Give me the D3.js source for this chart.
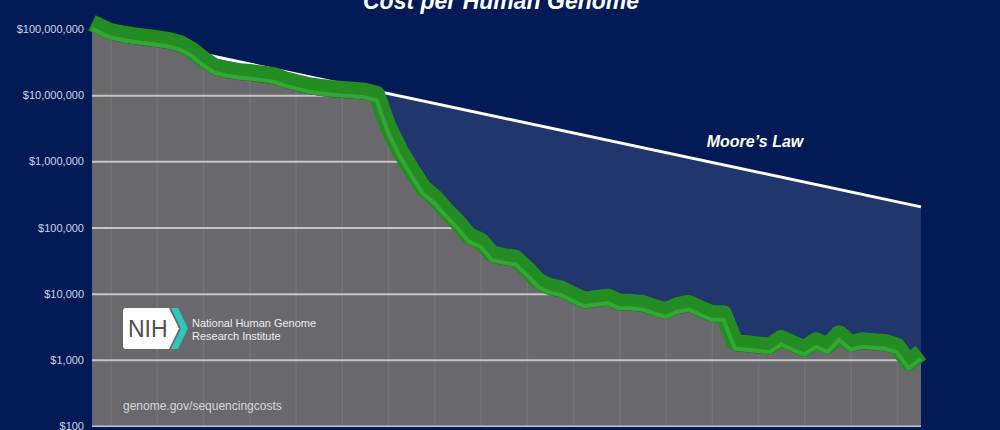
<!DOCTYPE html>
<html><head><meta charset="utf-8">
<script src="https://cdn.jsdelivr.net/npm/d3@7"></script>
<style>html,body{margin:0;padding:0;background:#021b57;}svg{display:block;}</style>
</head><body><svg id="c" width="1000" height="430"></svg>
<script>
// ---- data ----
const years = [2001.6, 2002.0, 2002.25, 2002.5, 2002.75, 2003.0, 2003.25, 2003.5, 2003.75,
  2004.0, 2004.25, 2004.5, 2004.75, 2005.0, 2005.25, 2005.5, 2005.75, 2006.0, 2006.25,
  2006.5, 2006.75, 2007.0, 2007.25, 2007.5, 2007.75, 2008.0, 2008.25, 2008.5, 2008.75,
  2009.0, 2009.25, 2009.5, 2009.75, 2010.0, 2010.25, 2010.5, 2010.75, 2011.0, 2011.25,
  2011.5, 2011.75, 2012.0, 2012.25, 2012.5, 2012.75, 2013.0, 2013.25, 2013.5, 2013.75,
  2014.0, 2014.25, 2014.5, 2014.75, 2015.0, 2015.25, 2015.5, 2015.75, 2016.0, 2016.25,
  2016.5, 2016.75, 2017.0, 2017.25, 2017.5, 2017.75, 2018.0, 2018.25, 2018.5, 2018.75,
  2019.0, 2019.25, 2019.52];
const costs = [92e6, 68e6, 63e6, 59e6, 56e6, 53e6, 50e6, 45e6, 36e6,
  26e6, 20e6, 18.2e6, 17e6, 16.4e6, 15.6e6, 14.8e6, 12.9e6, 11.6e6, 10.5e6,
  9.8e6, 9.4e6, 9.1e6, 8.8e6, 8.5e6, 7.7e6, 2.5e6, 1.1e6, 565e3, 300e3,
  214e3, 136e3, 90e3, 56e3, 46.5e3, 29.5e3, 27e3, 25.6e3, 17.6e3, 11.5e3,
  9.5e3, 8.7e3, 7.1e3, 5.9e3, 6.3e3, 6.6e3, 5.5e3, 5.5e3, 5.3e3, 4.6e3,
  4.1e3, 4.9e3, 5.3e3, 4.4e3, 3.7e3, 3.7e3, 1350, 1300, 1250, 1200,
  1570, 1300, 1100, 1450, 1200, 1850, 1300, 1450, 1400, 1350,
  1200, 680, 960];
const mooreYears = [2001.6, 2019.52];
const mooreCosts = [95e6, 2.05e5];
const yTicks = [100, 1e3, 1e4, 1e5, 1e6, 1e7, 1e8];
const gridYears = [2002, 2003, 2004, 2005, 2006, 2007, 2008, 2009, 2010, 2011, 2012,
  2013, 2014, 2015, 2016, 2017, 2018, 2019];
const titleText = "Cost per Human Genome";
const mooreLabel = "Moore\u2019s Law";
const orgLines = ["National Human Genome", "Research Institute"];
const sourceText = "genome.gov/sequencingcosts";

// ---- layout ----
const L = 92, R = 921, T = 29, B = 426;
const svg = d3.select("#c");
const x = d3.scaleLinear().domain([2001.6, 2019.52]).range([L, R]);
const y = d3.scaleLog().domain([100, 1e8]).range([B, T]);
const data = years.map((t, i) => ({t, v: costs[i]}));
const moore = mooreYears.map((t, i) => ({t, v: mooreCosts[i]}));
const font = "'Liberation Sans', Arial, sans-serif";

svg.append("rect").attr("width", 1000).attr("height", 430).attr("fill", "#021b57");

// Moore's law fill
svg.append("path").datum(moore)
  .attr("d", d3.area().x(d => x(d.t)).y0(B + 1).y1(d => y(d.v)))
  .attr("fill", "#21366d");

// gray area under cost
const grayArea = d3.area().x(d => x(d.t)).y0(B + 1).y1(d => y(d.v));
svg.append("path").datum(data).attr("d", grayArea).attr("fill", "#69696d");

// clip for gridlines
svg.append("clipPath").attr("id", "gclip").append("path").datum(data).attr("d", grayArea);
const grid = svg.append("g").attr("clip-path", "url(#gclip)");
const vg = grid.append("g").attr("transform", `translate(0,${B + 1})`)
  .call(d3.axisBottom(x).tickValues(gridYears).tickSize(-(B + 1)).tickFormat(""));
vg.select(".domain").remove();
vg.selectAll("line").attr("stroke", "#747478").attr("stroke-width", 1.5);
const hg = grid.append("g").attr("transform", `translate(${L},0)`)
  .call(d3.axisLeft(y).tickValues(yTicks).tickSize(-(R - L)).tickFormat(""));
hg.select(".domain").remove();
hg.selectAll("line").attr("stroke", "#c6c6ca").attr("stroke-width", 2);

// Moore's law line
svg.append("path").datum(moore)
  .attr("d", d3.line().x(d => x(d.t)).y(d => y(d.v)))
  .attr("fill", "none").attr("stroke", "#ffffff").attr("stroke-width", 3);

// green ribbon
const line = d3.line().x(d => x(d.t)).y(d => y(d.v));
svg.append("path").datum(data).attr("d", line)
  .attr("transform", "translate(0,-8.5)")
  .attr("fill", "none").attr("stroke", "#238c22").attr("stroke-width", 17)
  .attr("stroke-linejoin", "round").attr("stroke-linecap", "butt");
svg.append("path").datum(data).attr("d", line)
  .attr("transform", "translate(0,-2.5)")
  .attr("fill", "none").attr("stroke", "#33a633").attr("stroke-width", 4)
  .attr("stroke-linejoin", "round").attr("stroke-linecap", "butt");

// y axis labels
const ya = svg.append("g").attr("transform", `translate(${L},0)`)
  .call(d3.axisLeft(y).tickValues(yTicks).tickSize(0).tickPadding(8)
    .tickFormat(d => "$" + d3.format(",")(d)));
ya.select(".domain").remove();
ya.selectAll("text").attr("fill", "#cdd4e4").style("font-family", font).style("font-size", "11px");

// title
svg.append("text").attr("x", 501).attr("y", 9).attr("text-anchor", "middle")
  .attr("fill", "#ffffff").style("font-family", font).style("font-size", "23px")
  .style("font-weight", "bold").style("font-style", "italic").text(titleText);

// Moore's law label
svg.append("text").attr("x", 755).attr("y", 147).attr("text-anchor", "middle")
  .attr("fill", "#ffffff").style("font-family", font).style("font-size", "16px")
  .style("font-weight", "bold").style("font-style", "italic").text(mooreLabel);

// NIH logo
const logo = svg.append("g");
logo.append("path").attr("d", "M126,308 H169 L179,328.5 L169,349 H126 Q123,349 123,346 V311 Q123,308 126,308 Z")
  .attr("fill", "#ffffff");
logo.append("path").attr("d", "M171,308 H178 L188,328.5 L178,349 H171 L181,328.5 Z")
  .attr("fill", "#2bc9bd");
logo.append("text").attr("x", 128).attr("y", 337).attr("fill", "#505054")
  .style("font-family", font).style("font-size", "23px").text("NIH");
orgLines.forEach((s, i) => {
  logo.append("text").attr("x", 192).attr("y", 327 + i * 13).attr("fill", "#ececec")
    .style("font-family", font).style("font-size", "11px").text(s);
});

// source
svg.append("text").attr("x", 123).attr("y", 410).attr("fill", "#d6d6d8")
  .style("font-family", font).style("font-size", "12px").text(sourceText);
</script></body></html>
